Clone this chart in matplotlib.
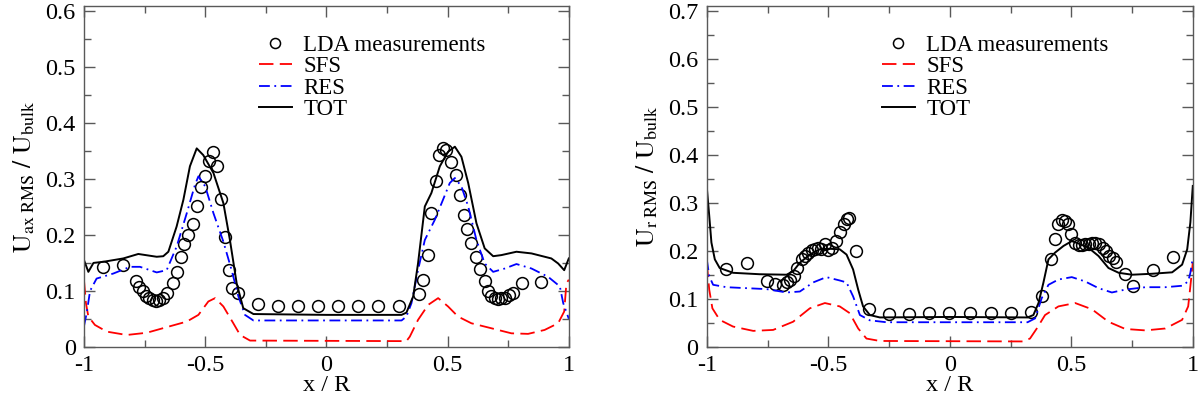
import matplotlib
matplotlib.use("Agg")
from matplotlib import pyplot as plt
from matplotlib.ticker import MultipleLocator, FormatStrFormatter

plt.rcParams["font.family"] = ["Liberation Serif", "DejaVu Serif"]
plt.rcParams["mathtext.fontset"] = "stix"
plt.rcParams["axes.unicode_minus"] = False
plt.rcParams["font.size"] = 17

# ---- axial RMS (left panel) ----
ax_tot_x = [-1, -0.982, -0.961, -0.92, -0.838, -0.776, -0.70, -0.673, -0.652, -0.618, -0.590,
            -0.563, -0.535, -0.508, -0.466, -0.425, -0.398, -0.370, -0.343, -0.301, 0.0, 0.31,
            0.33, 0.358, 0.378, 0.406, 0.433, 0.468, 0.502, 0.53, 0.557, 0.585, 0.619, 0.653,
            0.688, 0.722, 0.784, 0.846, 0.928, 0.956, 0.981, 1.0]
ax_tot = [0.155, 0.134, 0.150, 0.152, 0.158, 0.166, 0.161, 0.162, 0.170, 0.215, 0.263,
          0.323, 0.355, 0.343, 0.311, 0.257, 0.191, 0.113, 0.069, 0.0585, 0.057, 0.057,
          0.061, 0.090, 0.149, 0.251, 0.275, 0.323, 0.349, 0.358, 0.340, 0.293, 0.221, 0.176,
          0.162, 0.164, 0.170, 0.167, 0.158, 0.149, 0.137, 0.158]

ax_res_x = [-1, -0.989, -0.975, -0.948, -0.879, -0.81, -0.769, -0.70, -0.659, -0.618, -0.576,
            -0.542, -0.528, -0.50, -0.466, -0.425, -0.391, -0.363, -0.336, -0.301, 0.31, 0.33,
            0.351, 0.378, 0.406, 0.447, 0.481, 0.509, 0.53, 0.557, 0.585, 0.619, 0.653, 0.688,
            0.736, 0.784, 0.846, 0.915, 0.963, 0.977, 1.0]
ax_res = [0.037, 0.06, 0.10, 0.122, 0.131, 0.143, 0.143, 0.133, 0.137, 0.179, 0.239,
          0.29, 0.305, 0.287, 0.239, 0.188, 0.137, 0.09, 0.057, 0.047, 0.047, 0.054,
          0.078, 0.137, 0.191, 0.227, 0.263, 0.293, 0.302, 0.287, 0.251, 0.191, 0.149, 0.134,
          0.140, 0.148, 0.140, 0.125, 0.108, 0.078, 0.05]

ax_sfs_x = [-1, -0.992, -0.982, -0.955, -0.906, -0.824, -0.741, -0.659, -0.576, -0.528, -0.487,
            -0.459, -0.425, -0.384, -0.356, -0.315, 0.33, 0.344, 0.378, 0.42, 0.461, 0.502,
            0.543, 0.598, 0.681, 0.763, 0.832, 0.90, 0.956, 0.981, 0.99, 1.0]
ax_sfs = [0.119, 0.078, 0.054, 0.039, 0.027, 0.021, 0.025, 0.035, 0.045, 0.057, 0.081,
          0.087, 0.072, 0.042, 0.021, 0.011, 0.010, 0.018, 0.048, 0.075, 0.087, 0.072,
          0.054, 0.042, 0.033, 0.024, 0.023, 0.030, 0.042, 0.063, 0.113, 0.12]

ax_lda_x = [-0.920, -0.838, -0.785, -0.772, -0.758, -0.744, -0.730, -0.717, -0.703, -0.689,
            -0.673, -0.656, -0.634, -0.618, -0.601, -0.586, -0.569, -0.552, -0.535, -0.519,
            -0.501, -0.484, -0.468, -0.453, -0.435, -0.418, -0.400, -0.388, -0.366, -0.281,
            -0.198, -0.116, -0.033, 0.048, 0.131, 0.213, 0.298, 0.382, 0.399, 0.420, 0.433,
            0.451, 0.465, 0.481, 0.495, 0.516, 0.534, 0.550, 0.568, 0.582, 0.598, 0.616,
            0.633, 0.653, 0.667, 0.681, 0.695, 0.708, 0.722, 0.736, 0.754, 0.768, 0.805, 0.887]
ax_lda = [0.143, 0.146, 0.118, 0.106, 0.099, 0.091, 0.087, 0.084, 0.082, 0.084,
          0.087, 0.096, 0.114, 0.133, 0.161, 0.183, 0.200, 0.219, 0.251, 0.285,
          0.305, 0.333, 0.349, 0.324, 0.264, 0.197, 0.137, 0.105, 0.096, 0.076,
          0.072, 0.072, 0.072, 0.072, 0.072, 0.073, 0.073, 0.094, 0.119, 0.164, 0.239,
          0.297, 0.343, 0.355, 0.352, 0.330, 0.308, 0.272, 0.236, 0.211, 0.185, 0.161,
          0.140, 0.118, 0.099, 0.091, 0.088, 0.085, 0.087, 0.088, 0.093, 0.097, 0.114, 0.116]

# ---- radial RMS (right panel) ----
r_tot_x = [-1, -0.990, -0.981, -0.967, -0.947, -0.892, -0.782, -0.672, -0.645, -0.617, -0.576,
           -0.535, -0.494, -0.453, -0.425, -0.398, -0.377, -0.357, -0.329, -0.288, 0.0, 0.32,
           0.344, 0.365, 0.385, 0.406, 0.433, 0.468, 0.502, 0.530, 0.571, 0.612, 0.653, 0.695,
           0.75, 0.832, 0.915, 0.956, 0.977, 0.990, 1.0]
r_tot = [0.332, 0.273, 0.217, 0.182, 0.164, 0.154, 0.151, 0.150, 0.157, 0.175, 0.192,
         0.203, 0.204, 0.203, 0.192, 0.161, 0.119, 0.084, 0.066, 0.061, 0.062, 0.061,
         0.066, 0.091, 0.133, 0.182, 0.196, 0.210, 0.220, 0.215, 0.206, 0.189, 0.164, 0.154,
         0.150, 0.152, 0.155, 0.171, 0.203, 0.259, 0.335]

r_res_x = [-1, -0.99, -0.974, -0.919, -0.837, -0.754, -0.672, -0.617, -0.562, -0.508, -0.453,
           -0.425, -0.398, -0.370, -0.329, -0.261, 0.32, 0.351, 0.378, 0.406, 0.447, 0.502,
           0.557, 0.612, 0.667, 0.722, 0.805, 0.887, 0.956, 0.981, 0.990, 1.0]
r_res = [0.182, 0.147, 0.129, 0.124, 0.122, 0.120, 0.113, 0.115, 0.134, 0.145, 0.138,
         0.134, 0.105, 0.066, 0.055, 0.051, 0.051, 0.059, 0.101, 0.129, 0.140, 0.145,
         0.136, 0.122, 0.113, 0.119, 0.124, 0.124, 0.127, 0.136, 0.154, 0.185]

r_sfs_x = [-1, -0.99, -0.977, -0.947, -0.892, -0.809, -0.727, -0.645, -0.576, -0.514, -0.453,
           -0.412, -0.377, -0.343, -0.288, 0.30, 0.330, 0.358, 0.392, 0.447, 0.516, 0.585,
           0.653, 0.722, 0.805, 0.887, 0.956, 0.981, 0.990, 1.0]
r_sfs = [0.175, 0.119, 0.080, 0.056, 0.042, 0.033, 0.035, 0.052, 0.080, 0.091, 0.084,
         0.070, 0.038, 0.017, 0.012, 0.011, 0.017, 0.038, 0.066, 0.084, 0.091, 0.078,
         0.052, 0.037, 0.034, 0.038, 0.056, 0.084, 0.126, 0.175]

r_lda_x = [-0.919, -0.834, -0.754, -0.720, -0.686, -0.669, -0.656, -0.642, -0.627, -0.610,
           -0.597, -0.583, -0.569, -0.556, -0.542, -0.528, -0.514, -0.501, -0.483, -0.469,
           -0.453, -0.436, -0.425, -0.416, -0.384, -0.332, -0.251, -0.169, -0.085, -0.003,
           0.083, 0.168, 0.250, 0.334, 0.381, 0.417, 0.433, 0.447, 0.461, 0.475, 0.486,
           0.499, 0.516, 0.530, 0.543, 0.557, 0.571, 0.585, 0.598, 0.612, 0.629, 0.644,
           0.657, 0.671, 0.684, 0.719, 0.752, 0.835, 0.919]
r_lda = [0.162, 0.175, 0.136, 0.131, 0.129, 0.134, 0.140, 0.147, 0.164, 0.182,
         0.189, 0.196, 0.201, 0.204, 0.206, 0.203, 0.213, 0.201, 0.206, 0.220,
         0.238, 0.255, 0.267, 0.268, 0.199, 0.079, 0.068, 0.068, 0.070, 0.070,
         0.070, 0.070, 0.070, 0.073, 0.105, 0.182, 0.224, 0.255, 0.263, 0.262, 0.255,
         0.234, 0.217, 0.212, 0.212, 0.213, 0.215, 0.217, 0.217, 0.215, 0.206, 0.199,
         0.190, 0.184, 0.177, 0.152, 0.127, 0.159, 0.187]


def style_axis(ax, ytop):
    ax.set_xlim(-1, 1)
    ax.set_ylim(0, ytop)
    ax.xaxis.set_major_locator(MultipleLocator(0.5))
    ax.xaxis.set_minor_locator(MultipleLocator(0.25))
    ax.yaxis.set_major_locator(MultipleLocator(0.1))
    ax.yaxis.set_minor_locator(MultipleLocator(0.05))
    ax.xaxis.set_major_formatter(FormatStrFormatter("%g"))
    ax.yaxis.set_major_formatter(FormatStrFormatter("%g"))
    ax.tick_params(which="both", direction="in", top=True, right=True,
                   color="0.35", width=1.0, labelsize=17.5)
    ax.tick_params(which="major", length=8, pad=6)
    ax.tick_params(which="minor", length=5)
    for sp in ax.spines.values():
        sp.set_color("0.35")
        sp.set_linewidth(1.0)
    ax.set_xlabel("x / R", fontsize=17.5, labelpad=-1)


def draw_panel(ax, lda_x, lda, sfs_x, sfs, res_x, res, tot_x, tot):
    ax.plot(lda_x, lda, "o", mfc="none", mec="black", ms=8.5, mew=1.1,
            label="LDA measurements")
    ax.plot(sfs_x, sfs, color="red", lw=1.3, dashes=(8, 3.5), label="SFS")
    ax.plot(res_x, res, color="blue", lw=1.3, dashes=(6, 2.5, 1, 2.5), label="RES")
    ax.plot(tot_x, tot, color="black", lw=1.4, label="TOT")
    ax.legend(loc="upper left", bbox_to_anchor=(0.36, 0.915), frameon=False,
              fontsize=16.5, handlelength=1.45, handletextpad=0.5, labelspacing=0.02,
              borderpad=0, borderaxespad=0, markerscale=0.85)


fig = plt.figure(figsize=(12, 3.94), dpi=100)
ax1 = fig.add_axes([0.07, 0.12, 0.404, 0.865])
ax2 = fig.add_axes([0.589, 0.12, 0.405, 0.865])

draw_panel(ax1, ax_lda_x, ax_lda, ax_sfs_x, ax_sfs, ax_res_x, ax_res, ax_tot_x, ax_tot)
style_axis(ax1, 0.61)
ax1.set_ylabel(r"$\mathrm{U_{ax\ RMS}\ /\ U_{bulk}}$", fontsize=18.5, labelpad=6)

draw_panel(ax2, r_lda_x, r_lda, r_sfs_x, r_sfs, r_res_x, r_res, r_tot_x, r_tot)
style_axis(ax2, 0.71)
ax2.set_ylabel(r"$\mathrm{U_{r\ RMS}\ /\ U_{bulk}}$", fontsize=18.5, labelpad=6)

fig.savefig("out.png", dpi=100)
